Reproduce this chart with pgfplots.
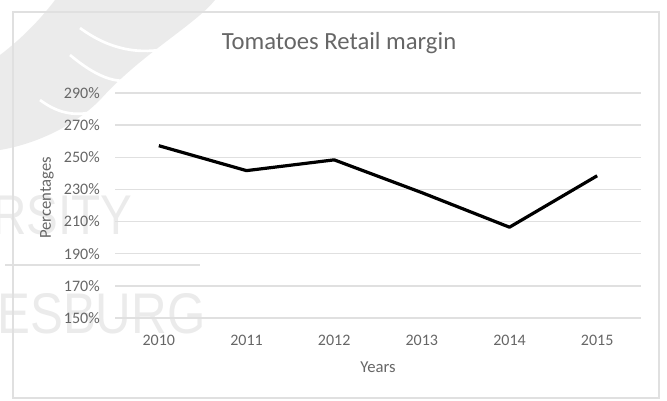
\documentclass[border=0pt]{standalone}
\usepackage{pgfplots}
\pgfplotsset{compat=1.18}
\usepackage{fontspec}
\setmainfont{Carlito}
\newfontfamily\wmfont{Liberation Sans}
\definecolor{txt}{HTML}{666666}
\definecolor{gridc}{HTML}{E0E0E0}
\definecolor{wm}{HTML}{EBEBEB}
\begin{document}
\begin{tikzpicture}[x=0.75pt,y=0.75pt]
\path[use as bounding box] (0,0) rectangle (667,400);
% watermark (background)
\fill[wm] (55,400) -- (215,400) .. controls (195,375) and (140,345) .. (100,300)
  .. controls (70,270) and (30,255) .. (0,250) -- (0,345) .. controls (20,360) and (40,380) .. (55,400) -- cycle;
\draw[white, line width=2pt] (80,372) .. controls (110,350) and (140,345) .. (170,352);
\draw[white, line width=2pt] (70,345) .. controls (100,320) and (120,315) .. (140,322);
\draw[white, line width=2pt] (40,300) .. controls (60,285) and (80,282) .. (105,292);
\node[wm, anchor=base west, inner sep=0pt, xscale=0.85, font=\wmfont\fontsize{42}{42}\selectfont] at (-8,165) {RSITY};
\node[wm, anchor=base west, inner sep=0pt, xscale=0.86, font=\wmfont\fontsize{43}{43}\selectfont] at (-3,67) {ESBURG};
\draw[wm!90!gray, line width=2.2pt] (5,135) -- (200,135);
% chart frame
\draw[gridc, line width=0.8pt] (13,2) rectangle (659,388);
\end{tikzpicture}%
\hspace*{-500.25pt}%
\begin{tikzpicture}
\path[use as bounding box] (0,0) rectangle (500.25pt,300pt);
\begin{axis}[
  at={(86.25pt,61.5pt)}, anchor=south west,
  scale only axis, width=394.5pt, height=168.75pt,
  xmin=-0.5, xmax=5.5, ymin=150, ymax=290,
  xtick={0,1,2,3,4,5},
  xticklabels={2010,2011,2012,2013,2014,2015},
  ytick={150,170,190,210,230,250,270,290},
  yticklabels={150\%,170\%,190\%,210\%,230\%,250\%,270\%,290\%},
  major tick length=0pt,
  axis line style={draw=none},
  ymajorgrids, xmajorgrids=false,
  y grid style={gridc, line width=1pt},
  yticklabel style={inner sep=0pt, anchor=east, xshift=-11.25pt, text=txt, font=\fontsize{12}{14}\selectfont},
  xticklabel style={inner sep=0pt, anchor=north, yshift=-12.5pt, text=txt, font=\fontsize{12}{14}\selectfont},
  clip=false,
]
\addplot[black, line width=2.4pt, line join=round, mark=none] coordinates {
  (0,257.2) (1,241.7) (2,248.4) (3,228.0) (4,206.5) (5,238.5)
};
\end{axis}
\node[text=txt, font=\fontsize{18.5}{20}\selectfont] at (254.25pt,267.75pt) {Tomatoes Retail margin};
\node[text=txt, rotate=90, font=\fontsize{12.5}{14}\selectfont] at (35.25pt,151.5pt) {Percentages};
\node[text=txt, font=\fontsize{12.5}{14}\selectfont] at (283.5pt,24.75pt) {Years};
\end{tikzpicture}
\end{document}
